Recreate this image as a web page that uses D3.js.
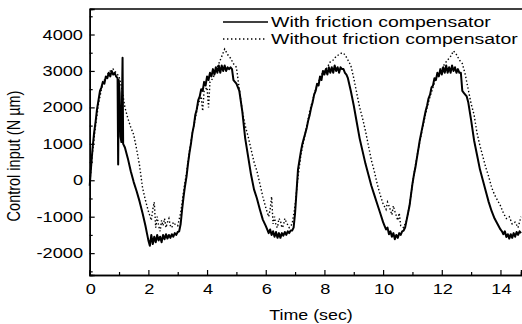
<!DOCTYPE html>
<html><head><meta charset="utf-8">
<script src="https://cdn.jsdelivr.net/npm/d3@7"></script>
<style>body{margin:0;background:#fff}svg{display:block}text{font-family:"Liberation Sans",Arial,sans-serif;fill:#000}</style>
</head><body>
<script>
const xTicks = [0,2,4,6,8,10,12,14];
const yTicks = [-2000,-1000,0,1000,2000,3000,4000];
const seriesNames = ["With friction compensator","Without friction compensator"];
const withComp = [
[0,-150],[0.05,400],[0.1,900],[0.15,1300],[0.2,1600],[0.25,1950],[0.3,2200],[0.35,2450],[0.4,2550],[0.45,2700],[0.5,2650],[0.55,2850],[0.6,2800],[0.65,2950],[0.7,2850],[0.75,3000],[0.8,2900],[0.85,2950],[0.9,2850],[0.95,2800],[0.97,430],[0.99,2750],[1.02,2400],[1.05,1200],[1.08,1050],[1.12,3360],[1.14,1000],[1.2,900],[1.3,600],[1.4,250],[1.5,-50],[1.6,-300],[1.7,-580],[1.8,-900],[1.9,-1250],[1.95,-1450],[2.0,-1650],[2.05,-1800],[2.1,-1500],[2.15,-1750],[2.2,-1550],[2.25,-1700],[2.3,-1500],[2.35,-1650],[2.4,-1550],[2.45,-1700],[2.5,-1500],[2.55,-1620],[2.6,-1480],[2.65,-1600],[2.7,-1500],[2.75,-1580],[2.8,-1480],[2.85,-1550],[2.9,-1450],[2.95,-1500],[3.0,-1420],[3.05,-1400],[3.1,-1200],[3.15,-800],[3.2,-450],[3.25,-150],[3.3,100],[3.35,450],[3.4,750],[3.45,1000],[3.5,1300],[3.55,1500],[3.6,1800],[3.65,1950],[3.7,2200],[3.75,2300],[3.8,2500],[3.85,2450],[3.9,2700],[3.95,2600],[4.0,2850],[4.05,2750],[4.1,2950],[4.15,2850],[4.2,3050],[4.25,2900],[4.3,3100],[4.35,2950],[4.4,3150],[4.45,2950],[4.5,3150],[4.55,3000],[4.6,3150],[4.65,3000],[4.7,3100],[4.75,3050],[4.8,3100],[4.85,3050],[4.9,2750],[5.0,2650],[5.1,2450],[5.2,1900],[5.3,1150],[5.4,650],[5.5,150],[5.6,-250],[5.7,-500],[5.8,-800],[5.9,-1080],[6.0,-1250],[6.05,-1350],[6.1,-1450],[6.15,-1350],[6.2,-1500],[6.25,-1400],[6.3,-1550],[6.35,-1420],[6.4,-1580],[6.45,-1450],[6.5,-1580],[6.55,-1450],[6.6,-1520],[6.65,-1420],[6.7,-1500],[6.75,-1400],[6.8,-1450],[6.85,-1380],[6.9,-1380],[6.95,-1300],[7.0,-900],[7.05,-300],[7.1,300],[7.15,550],[7.2,800],[7.25,1000],[7.3,1150],[7.35,1300],[7.4,1450],[7.45,1650],[7.5,1800],[7.55,2000],[7.6,2150],[7.65,2350],[7.7,2450],[7.75,2650],[7.8,2600],[7.85,2850],[7.9,2750],[7.95,3000],[8.0,2900],[8.05,3050],[8.1,2900],[8.15,3100],[8.2,2950],[8.25,3100],[8.3,2950],[8.35,3150],[8.4,3000],[8.45,3100],[8.5,2950],[8.55,3100],[8.6,3050],[8.65,3050],[8.7,2950],[8.75,2900],[8.8,2800],[8.9,2450],[9.0,2050],[9.1,1600],[9.2,1150],[9.3,800],[9.4,450],[9.5,150],[9.6,-150],[9.7,-400],[9.8,-650],[9.9,-900],[10.0,-1150],[10.05,-1250],[10.1,-1350],[10.15,-1300],[10.2,-1480],[10.25,-1400],[10.3,-1550],[10.35,-1450],[10.4,-1620],[10.45,-1500],[10.5,-1580],[10.55,-1450],[10.6,-1500],[10.65,-1400],[10.7,-1380],[10.75,-1300],[10.8,-1100],[10.85,-900],[10.9,-700],[10.95,-400],[11.0,-100],[11.05,150],[11.1,350],[11.15,600],[11.2,850],[11.25,1100],[11.3,1300],[11.35,1500],[11.4,1700],[11.45,1900],[11.5,2050],[11.55,2250],[11.6,2350],[11.65,2550],[11.7,2600],[11.75,2800],[11.8,2750],[11.85,2950],[11.9,2850],[11.95,3050],[12.0,2900],[12.05,3100],[12.1,2950],[12.15,3150],[12.2,2950],[12.25,3100],[12.3,2950],[12.35,3150],[12.4,3000],[12.45,3100],[12.5,2950],[12.55,3050],[12.6,2950],[12.65,2950],[12.7,2450],[12.75,2400],[12.8,2350],[12.85,2300],[12.9,2150],[13.0,1650],[13.1,1100],[13.2,700],[13.3,300],[13.4,0],[13.5,-300],[13.6,-600],[13.7,-850],[13.8,-1050],[13.9,-1200],[14.0,-1350],[14.05,-1400],[14.1,-1480],[14.15,-1400],[14.2,-1560],[14.25,-1480],[14.3,-1600],[14.35,-1480],[14.4,-1580],[14.45,-1450],[14.5,-1550],[14.55,-1420],[14.6,-1500],[14.65,-1400],[14.7,-1450]
];
const withoutComp = [
[0,-100],[0.1,800],[0.2,1500],[0.3,2100],[0.4,2500],[0.5,2750],[0.6,2900],[0.7,3000],[0.8,3050],[0.9,2950],[1.0,2850],[1.1,2500],[1.2,2000],[1.3,1700],[1.4,1450],[1.5,1250],[1.6,850],[1.7,400],[1.8,-200],[1.9,-550],[2.0,-850],[2.1,-1100],[2.15,-800],[2.2,-600],[2.25,-1300],[2.3,-1000],[2.35,-1250],[2.4,-1400],[2.45,-1100],[2.5,-1250],[2.55,-1050],[2.6,-1300],[2.65,-1150],[2.7,-1050],[2.75,-1250],[2.8,-1300],[2.85,-1150],[2.9,-1200],[3.0,-1250],[3.1,-900],[3.2,-300],[3.3,200],[3.4,800],[3.5,1300],[3.6,1700],[3.7,2100],[3.8,2300],[3.85,1900],[3.9,2450],[4.0,2550],[4.05,2000],[4.1,2700],[4.2,2800],[4.3,3000],[4.4,3200],[4.5,3400],[4.6,3600],[4.7,3450],[4.8,3350],[4.9,3200],[5.0,3100],[5.1,2500],[5.2,1900],[5.3,1500],[5.4,1200],[5.5,850],[5.6,500],[5.7,250],[5.8,-100],[5.9,-450],[6.0,-750],[6.1,-1000],[6.15,-800],[6.2,-450],[6.25,-1200],[6.3,-1000],[6.35,-1250],[6.4,-1300],[6.45,-1050],[6.5,-1100],[6.55,-1300],[6.6,-1250],[6.65,-1050],[6.7,-1150],[6.8,-1300],[6.9,-1200],[7.0,-700],[7.1,100],[7.2,700],[7.3,1100],[7.4,1500],[7.5,1900],[7.6,2200],[7.7,2500],[7.8,2700],[7.9,2900],[8.0,3000],[8.1,3100],[8.2,3250],[8.3,3300],[8.4,3400],[8.5,3450],[8.6,3500],[8.7,3450],[8.8,3300],[8.9,3150],[9.0,2800],[9.1,2400],[9.2,2000],[9.3,1700],[9.4,1350],[9.5,950],[9.6,550],[9.7,250],[9.8,-100],[9.9,-400],[10.0,-650],[10.1,-800],[10.15,-600],[10.2,-700],[10.3,-950],[10.35,-700],[10.4,-850],[10.5,-1100],[10.55,-900],[10.6,-1250],[10.7,-1300],[10.8,-1100],[10.9,-700],[11.0,-100],[11.1,400],[11.2,850],[11.3,1250],[11.4,1650],[11.5,2000],[11.6,2300],[11.7,2550],[11.8,2800],[11.9,2950],[12.0,3050],[12.1,3200],[12.2,3300],[12.3,3400],[12.4,3550],[12.5,3450],[12.6,3300],[12.7,3200],[12.8,2900],[12.9,2500],[13.0,2100],[13.1,1800],[13.2,1300],[13.3,950],[13.4,650],[13.5,350],[13.6,100],[13.7,-200],[13.8,-400],[13.9,-550],[14.0,-700],[14.1,-900],[14.2,-1050],[14.3,-1000],[14.4,-1200],[14.5,-1150],[14.6,-1300],[14.7,-1000]
];

const W = 522, H = 324;
const m = {left: 89.7, right: 521, top: 9, bottom: 275};
const svg = d3.select("body").append("svg").attr("width", W).attr("height", H);
const x = d3.scaleLinear().domain([0, 14.7]).range([m.left, m.right]);
const y = d3.scaleLinear().domain([-2600, 4700]).range([m.bottom, m.top]);

const line = d3.line().x(d => x(d[0])).y(d => y(d[1]));
svg.append("path").datum(withoutComp).attr("d", line)
  .attr("fill","none").attr("stroke","#000").attr("stroke-width",1.4).attr("stroke-dasharray","1.4,2.2");
svg.append("path").datum(withComp).attr("d", line)
  .attr("fill","none").attr("stroke","#000").attr("stroke-width",2).attr("stroke-linejoin","round");

// axes (inward ticks)
const xAx = svg.append("g").attr("transform",`translate(0,${m.bottom})`)
  .call(d3.axisTop(x).tickValues(xTicks).tickSize(5).tickFormat(""));
const xMinor = svg.append("g").attr("transform",`translate(0,${m.bottom})`)
  .call(d3.axisTop(x).tickValues(d3.range(1,15,2)).tickSize(3).tickFormat(""));
const yAx = svg.append("g").attr("transform",`translate(${m.left},0)`)
  .call(d3.axisRight(y).tickValues(yTicks).tickSize(5).tickFormat(""));
const yMinor = svg.append("g").attr("transform",`translate(${m.left},0)`)
  .call(d3.axisRight(y).tickValues(d3.range(-2500,4700,1000)).tickSize(3).tickFormat(""));
[xAx,xMinor,yAx,yMinor].forEach(g => { g.select(".domain").attr("stroke-width",1.5); g.selectAll("line").attr("stroke-width",1.2); });
svg.append("line").attr("x1",m.left).attr("x2",W).attr("y1",m.top).attr("y2",m.top).attr("stroke","#000").attr("stroke-width",1.5);

// stretched text helper (reference glyphs are horizontally wide)
function label(g, px, py, str, size, anchor, sx) {
  return g.append("text").attr("transform",`translate(${px},${py}) scale(${sx},1)`)
    .attr("text-anchor",anchor).attr("font-size",size).text(str);
}
const tg = svg.append("g");
xTicks.forEach(d => label(tg, x(d)+1, 294, d, 14, "middle", 1.3));
yTicks.forEach(d => label(tg, 83, y(d)+5, d, 14, "end", 1.3));

// axis titles
label(svg, 311, 320, "Time (sec)", 15.5, "middle", 1.15);
svg.append("text").attr("transform","translate(20,156) rotate(-90) scale(1,1.25)").attr("text-anchor","middle").attr("font-size",14.5).text("Control input (N \u00b5m)");

// legend
const lg = svg.append("g");
lg.append("line").attr("x1",223).attr("x2",268).attr("y1",22).attr("y2",22).attr("stroke","#000").attr("stroke-width",1.6);
lg.append("line").attr("x1",223).attr("x2",267).attr("y1",39).attr("y2",39).attr("stroke","#000").attr("stroke-width",1.4).attr("stroke-dasharray","1.4,2.6");
label(lg, 271, 27, seriesNames[0], 15, "start", 1.3);
label(lg, 271, 43.5, seriesNames[1], 15, "start", 1.3);
</script>
</body></html>
